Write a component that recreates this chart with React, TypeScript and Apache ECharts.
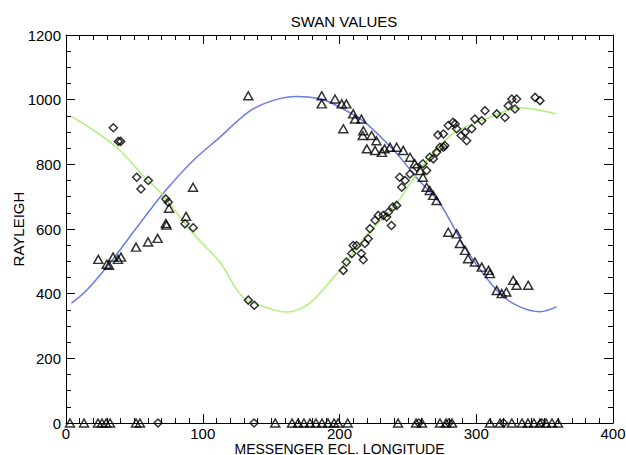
import React, { useEffect, useRef } from "react";
import * as echarts from "echarts";

const titleText = "SWAN VALUES";
const xName = "MESSENGER ECL. LONGITUDE";
const yName = "RAYLEIGH";

// fitted model curves [longitude, rayleigh]
const blueCurve: number[][] = [
  [4, 371], [15, 410], [32, 494], [52, 606], [71, 710], [93, 812], [112.6, 884],
  [133, 961], [151, 997], [169, 1010], [186, 1003], [193, 992], [217, 935],
  [242, 833], [256, 760], [273.5, 679], [293, 534], [317, 401], [332, 359],
  [346.6, 344], [358.8, 359],
];
const greenCurve: number[][] = [
  [4, 948], [22.7, 898], [39.5, 843], [56.3, 765], [71, 704], [92.9, 586],
  [112.6, 497], [129.4, 389], [152.8, 349], [162, 343], [178, 370], [200, 472],
  [218.6, 575], [241.8, 679], [258.9, 785], [283, 895], [307.6, 941], [332, 975],
  [358.8, 956],
];

// measured values, triangles
const triangles: number[][] = [
  [23.6, 506], [29.8, 491], [31.4, 488], [34.4, 513], [38, 506], [40.2, 513],
  [51.2, 544], [60, 560], [67, 571], [73, 617], [73.5, 612], [75.3, 664],
  [87.8, 639], [92.9, 729], [133.3, 1012],
  [187, 1012], [187, 987], [196.7, 1002], [201.6, 987], [205, 987], [210, 956],
  [211.3, 940], [216, 940], [202.8, 910], [217.4, 904], [217, 889], [223.5, 889],
  [227, 873], [220, 848], [226, 843], [231, 837], [233, 848], [237, 853],
  [241.8, 853], [246.6, 843], [251.6, 822], [255, 802], [259, 781], [261, 760],
  [263.7, 729], [266, 719], [268.5, 704], [271, 688], [279.5, 590], [285.7, 585],
  [288, 555], [291.8, 534], [294, 508], [299, 498], [304, 482], [309, 472],
  [310, 462], [315, 410], [318.6, 400], [322, 405], [327, 441], [329.5, 426],
  [338, 426],
];
// measured values, diamonds
const diamonds: number[][] = [
  [34.6, 913], [38.3, 871], [40, 871], [51.7, 760], [54.8, 724], [60.2, 750],
  [73, 693], [74.8, 683], [87, 616], [93, 604], [133.3, 380], [137.7, 364],
  [202.8, 472], [205, 498], [209, 524], [210, 549], [212.5, 549], [216, 524],
  [217.4, 505], [218.6, 555], [221, 570], [222.3, 601], [226, 627], [228.4, 642],
  [232, 642], [234.5, 637], [238, 611], [235.7, 652], [239, 668], [241.8, 673],
  [244, 760], [245.5, 729], [248, 750], [251.6, 770], [256.5, 791], [261, 802],
  [263.7, 781], [266, 822], [268.6, 817], [271, 837], [273.5, 853], [276, 853],
  [277, 858], [272, 891], [276, 894], [279.5, 920], [283, 930], [284.5, 925],
  [285.7, 910], [289, 889], [291.8, 899], [293, 873], [296.7, 910], [299, 940],
  [304, 935], [306.4, 966], [315, 956], [321, 945], [323.4, 981], [326, 1002],
  [328.3, 971], [329.5, 1002], [343, 1007], [346.6, 997],
];
// zero readings
const zeroTriangleLon: number[] = [
  2.9, 13.2, 23.4, 26.3, 29.3, 32.2, 51.2, 54.1, 153, 165.3, 169.7, 174, 178.4,
  182.8, 187.2, 191.6, 196, 199, 206, 242.8, 256, 260.3, 273.5, 277.9, 282.3,
  310, 317.4, 326, 333.5, 337.8, 342.2, 346.6, 351, 355.4, 359.8,
];
const zeroDiamondLon: number[] = [67.3, 137.5, 258, 280, 320, 348];

const FONT = "'Liberation Sans', Arial, Helvetica, sans-serif";

function makeAxis(
  min: number, max: number, interval: number, minorSplit: number,
  position: string, showLabel: boolean, labelMargin: number, extra: any,
) {
  return {
    type: "value",
    min, max, interval, position,
    axisLine: { show: true, onZero: false, lineStyle: { color: "#000", width: 1 } },
    axisTick: { show: true, inside: true, length: 9, lineStyle: { color: "#000", width: 1 } },
    minorTick: { show: true, splitNumber: minorSplit, length: 5, lineStyle: { color: "#000", width: 1 } },
    splitLine: { show: false },
    minorSplitLine: { show: false },
    axisLabel: {
      show: showLabel, color: "#000", fontSize: 15, lineHeight: 15, fontFamily: FONT,
      margin: labelMargin,
      formatter: (v: number) => String(v),
    },
    ...extra,
  };
}

export default function App() {
  const ref = useRef<HTMLDivElement>(null);
  useEffect(() => {
    if (!ref.current) return;
    const chart = echarts.init(ref.current, null, { renderer: "svg" });
    const markerStyle = { color: "rgba(0,0,0,0)", borderColor: "#000", borderWidth: 1.5 };
    chart.setOption({
      animation: false,
      backgroundColor: "#fff",
      title: {
        text: titleText,
        left: 339,
        top: 9,
        textAlign: "center",
        textStyle: { fontSize: 15, fontWeight: "normal", color: "#000", fontFamily: FONT },
      },
      grid: {
        left: 66, right: 13, top: 35, bottom: 32,
        containLabel: false, outerBoundsMode: "none",
      },
      xAxis: [
        makeAxis(0, 400, 100, 10, "bottom", true, 3, {
          name: xName, nameLocation: "middle", nameGap: 19, nameMoveOverlap: false,
          nameTextStyle: { fontSize: 14, lineHeight: 13, color: "#000", fontFamily: FONT },
        }),
        makeAxis(0, 400, 100, 10, "top", false, 3, {}),
      ],
      yAxis: [
        makeAxis(0, 1200, 200, 4, "left", true, 5, {
          name: yName, nameLocation: "middle", nameGap: 40, nameMoveOverlap: false,
          nameTextStyle: { fontSize: 15, color: "#000", fontFamily: FONT },
        }),
        makeAxis(0, 1200, 200, 4, "right", false, 5, {}),
      ],
      series: [
        {
          type: "line", data: blueCurve, showSymbol: false, smooth: 0.3,
          lineStyle: { color: "#6a7ee0", width: 1.5 }, z: 1,
        },
        {
          type: "line", data: greenCurve, showSymbol: false, smooth: 0.3,
          lineStyle: { color: "#aef07a", width: 1.5 }, z: 1,
        },
        {
          type: "scatter", data: triangles, symbol: "triangle", symbolSize: [9, 8],
          itemStyle: markerStyle, z: 3,
        },
        {
          type: "scatter", data: diamonds, symbol: "diamond", symbolSize: [8, 8],
          itemStyle: markerStyle, z: 3,
        },
        {
          type: "scatter", data: zeroTriangleLon.map((x) => [x, 0]), symbol: "triangle",
          symbolSize: [9, 8], itemStyle: markerStyle, z: 3,
        },
        {
          type: "scatter", data: zeroDiamondLon.map((x) => [x, 0]), symbol: "diamond",
          symbolSize: [8, 8], itemStyle: markerStyle, z: 3,
        },
      ],
    });
    return () => chart.dispose();
  }, []);
  return <div ref={ref} style={{ width: 626, height: 455, position: "absolute", left: 0, top: 0 }} />;
}
